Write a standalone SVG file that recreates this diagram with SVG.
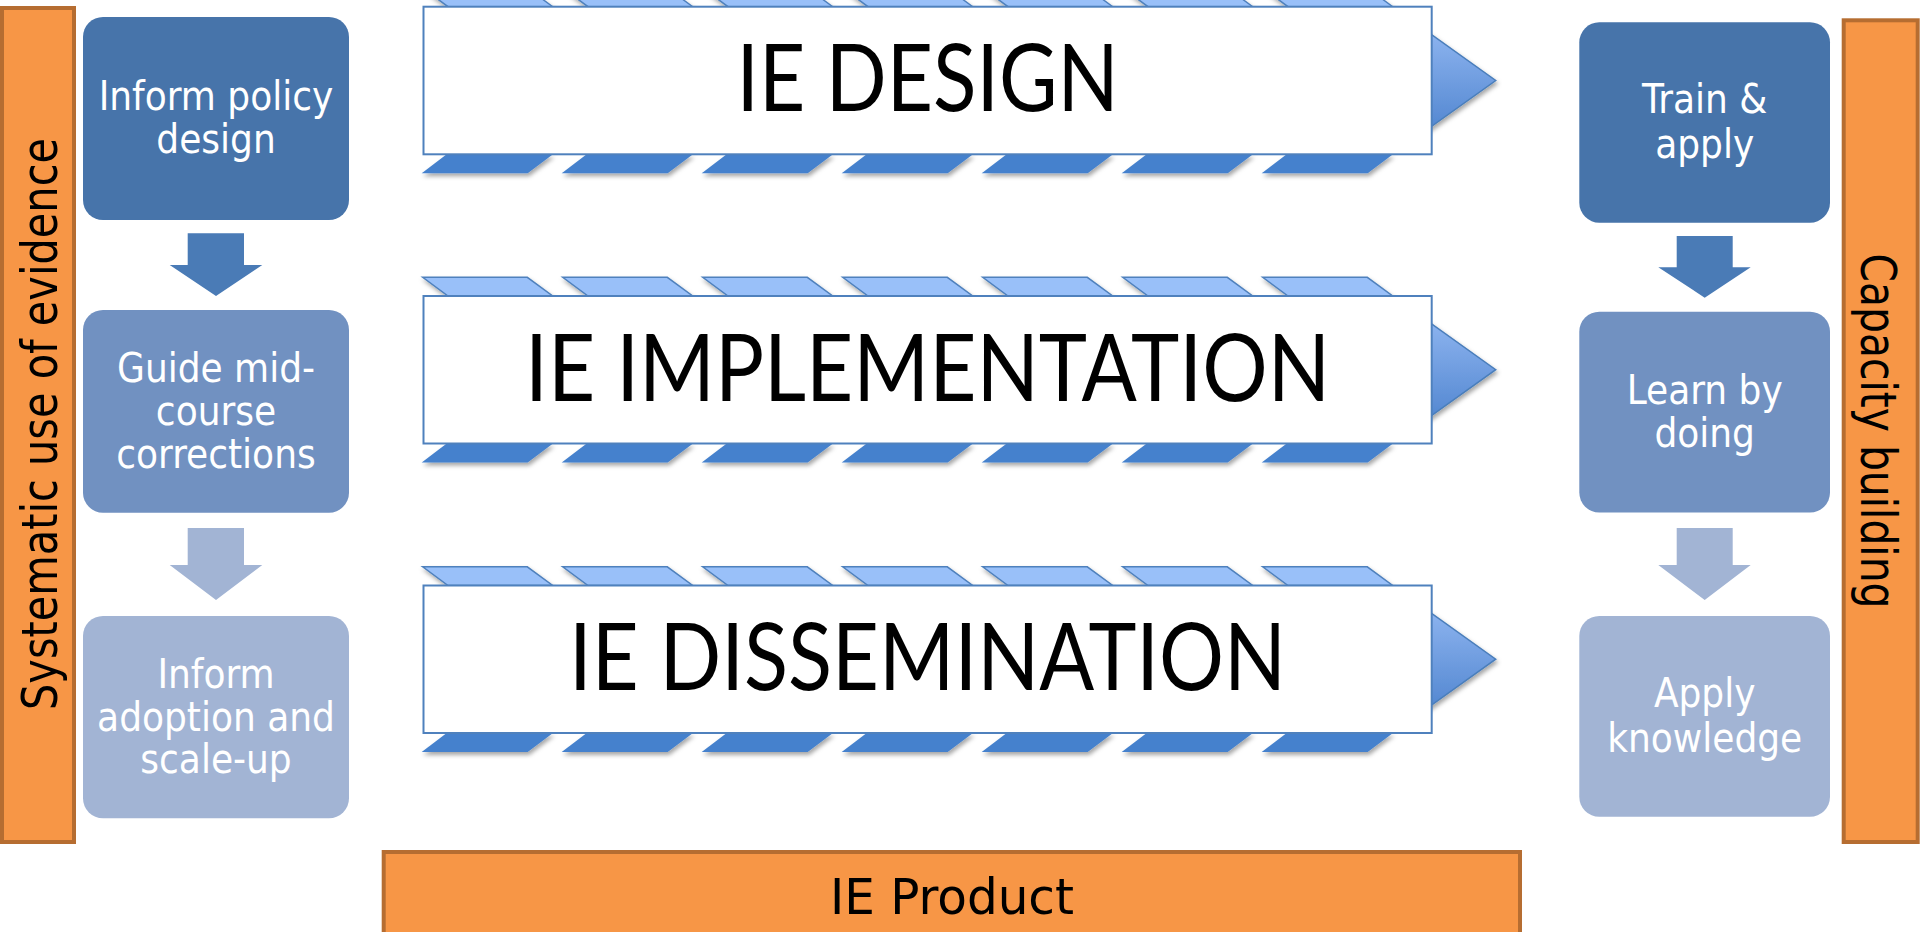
<svg xmlns="http://www.w3.org/2000/svg" xmlns:xlink="http://www.w3.org/1999/xlink" width="1920" height="932" viewBox="0 0 1920 932">
<style>
.bar{fill:#F79646;stroke:#B66D31;stroke-width:4}
.b1{fill:#4774AA}.b2{fill:#7191C1}.b3{fill:#A2B4D4}
.a1{fill:#4A7BB6}.a2{fill:#A2B4D4}
.bt{font-family:"DejaVu Sans","Liberation Sans",sans-serif;font-stretch:condensed;font-size:40px;fill:#FFFFFF;text-anchor:middle}
.side{font-family:"DejaVu Sans","Liberation Sans",sans-serif;font-stretch:condensed;font-size:50px;fill:#000000;text-anchor:middle}
.frame{fill:#FFFFFF;stroke:#4F81BD;stroke-width:2}
.tp{fill:#99C0F9;stroke:#4F81BD;stroke-width:1.5}
.bp{fill:#4581CD}
.head{fill:url(#hg);stroke:#4A7EBB;stroke-width:1.5}
.ft{font-family:Lato,"Open Sans","Liberation Sans",sans-serif;font-size:94px;fill:#000000;text-anchor:middle}
</style>
<defs>
<linearGradient id="hg" x1="0" y1="0" x2="0" y2="1">
<stop offset="0" stop-color="#96BBF4"/>
<stop offset="1" stop-color="#4A80CC"/>
</linearGradient>
<filter id="sh" x="-10%" y="-30%" width="130%" height="180%">
<feDropShadow dx="1.5" dy="3" stdDeviation="2" flood-color="#000000" flood-opacity="0.35"/>
</filter>
<polygon id="tpar" class="tp" points="0,0 104.6,0 130,18.7 25.3,18.7"/>
<polygon id="bpar" class="bp" points="25,0 131.3,0 106,19 0,19"/>
</defs>

<g id="left-bar">
<rect class="bar" x="2" y="8" width="72" height="834"/>
<text class="side" transform="translate(57,424) rotate(-90)" textLength="572" lengthAdjust="spacingAndGlyphs">Systematic use of evidence</text>
</g>

<g id="right-bar">
<rect class="bar" x="1843.7" y="20.3" width="74" height="821.7"/>
<text class="side" transform="translate(1861,431) rotate(90)" textLength="355" lengthAdjust="spacingAndGlyphs">Capacity building</text>
</g>

<g id="ie-product">
<rect class="bar" x="383.7" y="852" width="1136.3" height="90"/>
<text class="side" x="952" y="913.5" textLength="244" lengthAdjust="spacingAndGlyphs">IE Product</text>
</g>

<g id="inform-policy-design">
<rect class="b1" x="83" y="17" width="266" height="203" rx="20"/>
<text class="bt" x="216" y="110">Inform policy</text>
<text class="bt" x="216" y="153.3">design</text>
</g>
<g id="guide-mid-course">
<rect class="b2" x="83" y="310" width="266" height="202.7" rx="20"/>
<text class="bt" x="216" y="381.7">Guide mid-</text>
<text class="bt" x="216" y="425">course</text>
<text class="bt" x="216" y="468.3">corrections</text>
</g>
<g id="inform-adoption">
<rect class="b3" x="83" y="616" width="266" height="202.3" rx="20"/>
<text class="bt" x="216" y="687.7">Inform</text>
<text class="bt" x="216" y="730.7">adoption and</text>
<text class="bt" x="216" y="773.3">scale-up</text>
</g>

<g id="train-apply">
<rect class="b1" x="1579.3" y="22.3" width="250.7" height="200.4" rx="20"/>
<text class="bt" x="1704.7" y="113.3">Train &amp;</text>
<text class="bt" x="1704.7" y="157.5">apply</text>
</g>
<g id="learn-by-doing">
<rect class="b2" x="1579.3" y="311.7" width="250.7" height="200.8" rx="20"/>
<text class="bt" x="1704.7" y="403.8">Learn by</text>
<text class="bt" x="1704.7" y="447.3">doing</text>
</g>
<g id="apply-knowledge">
<rect class="b3" x="1579.3" y="616" width="250.7" height="200.8" rx="20"/>
<text class="bt" x="1704.7" y="707">Apply</text>
<text class="bt" x="1704.7" y="752">knowledge</text>
</g>

<g id="ie-design">
<g filter="url(#sh)">
<use href="#tpar" x="422.7" y="-12"/><use href="#tpar" x="562.7" y="-12"/><use href="#tpar" x="702.7" y="-12"/><use href="#tpar" x="842.7" y="-12"/><use href="#tpar" x="982.7" y="-12"/><use href="#tpar" x="1122.7" y="-12"/><use href="#tpar" x="1262.7" y="-12"/>
<use href="#bpar" x="421.7" y="154.3"/><use href="#bpar" x="561.7" y="154.3"/><use href="#bpar" x="701.7" y="154.3"/><use href="#bpar" x="841.7" y="154.3"/><use href="#bpar" x="981.7" y="154.3"/><use href="#bpar" x="1121.7" y="154.3"/><use href="#bpar" x="1261.7" y="154.3"/>
<polygon class="head" points="1405,15.7 1495.7,80.5 1405,145.3"/>
</g>
<rect class="frame" x="423.5" y="6.7" width="1008.2" height="147.6"/>
<text class="ft" x="927.6" y="111" textLength="382" lengthAdjust="spacingAndGlyphs">IE DESIGN</text>
</g>

<g id="ie-implementation">
<g filter="url(#sh)">
<use href="#tpar" x="422.7" y="277.3"/><use href="#tpar" x="562.7" y="277.3"/><use href="#tpar" x="702.7" y="277.3"/><use href="#tpar" x="842.7" y="277.3"/><use href="#tpar" x="982.7" y="277.3"/><use href="#tpar" x="1122.7" y="277.3"/><use href="#tpar" x="1262.7" y="277.3"/>
<use href="#bpar" x="421.7" y="443.5"/><use href="#bpar" x="561.7" y="443.5"/><use href="#bpar" x="701.7" y="443.5"/><use href="#bpar" x="841.7" y="443.5"/><use href="#bpar" x="981.7" y="443.5"/><use href="#bpar" x="1121.7" y="443.5"/><use href="#bpar" x="1261.7" y="443.5"/>
<polygon class="head" points="1405,304.9 1495.7,369.7 1405,434.5"/>
</g>
<rect class="frame" x="423.5" y="296" width="1008.2" height="147.5"/>
<text class="ft" x="927.6" y="400.5" textLength="805" lengthAdjust="spacingAndGlyphs">IE IMPLEMENTATION</text>
</g>

<g id="ie-dissemination">
<g filter="url(#sh)">
<use href="#tpar" x="422.7" y="566.8"/><use href="#tpar" x="562.7" y="566.8"/><use href="#tpar" x="702.7" y="566.8"/><use href="#tpar" x="842.7" y="566.8"/><use href="#tpar" x="982.7" y="566.8"/><use href="#tpar" x="1122.7" y="566.8"/><use href="#tpar" x="1262.7" y="566.8"/>
<use href="#bpar" x="421.7" y="733"/><use href="#bpar" x="561.7" y="733"/><use href="#bpar" x="701.7" y="733"/><use href="#bpar" x="841.7" y="733"/><use href="#bpar" x="981.7" y="733"/><use href="#bpar" x="1121.7" y="733"/><use href="#bpar" x="1261.7" y="733"/>
<polygon class="head" points="1405,594.4 1495.7,659.2 1405,724"/>
</g>
<rect class="frame" x="423.5" y="585.5" width="1008.2" height="147.5"/>
<text class="ft" x="927.6" y="690" textLength="717" lengthAdjust="spacingAndGlyphs">IE DISSEMINATION</text>
</g>

<g id="connectors">
<polygon class="a1" points="187.7,233.3 244,233.3 244,265 262.3,265 216,296 169.7,265 187.7,265"/>
<polygon class="a2" points="187.7,528 244,528 244,565 262.3,565 216,600 169.7,565 187.7,565"/>
<polygon class="a1" points="1676.7,236 1732.7,236 1732.7,267.3 1750.7,267.3 1704.7,297.7 1658.3,267.3 1676.7,267.3"/>
<polygon class="a2" points="1676.7,528 1732.7,528 1732.7,565 1750.7,565 1704.7,600 1658.3,565 1676.7,565"/>
</g>
</svg>
